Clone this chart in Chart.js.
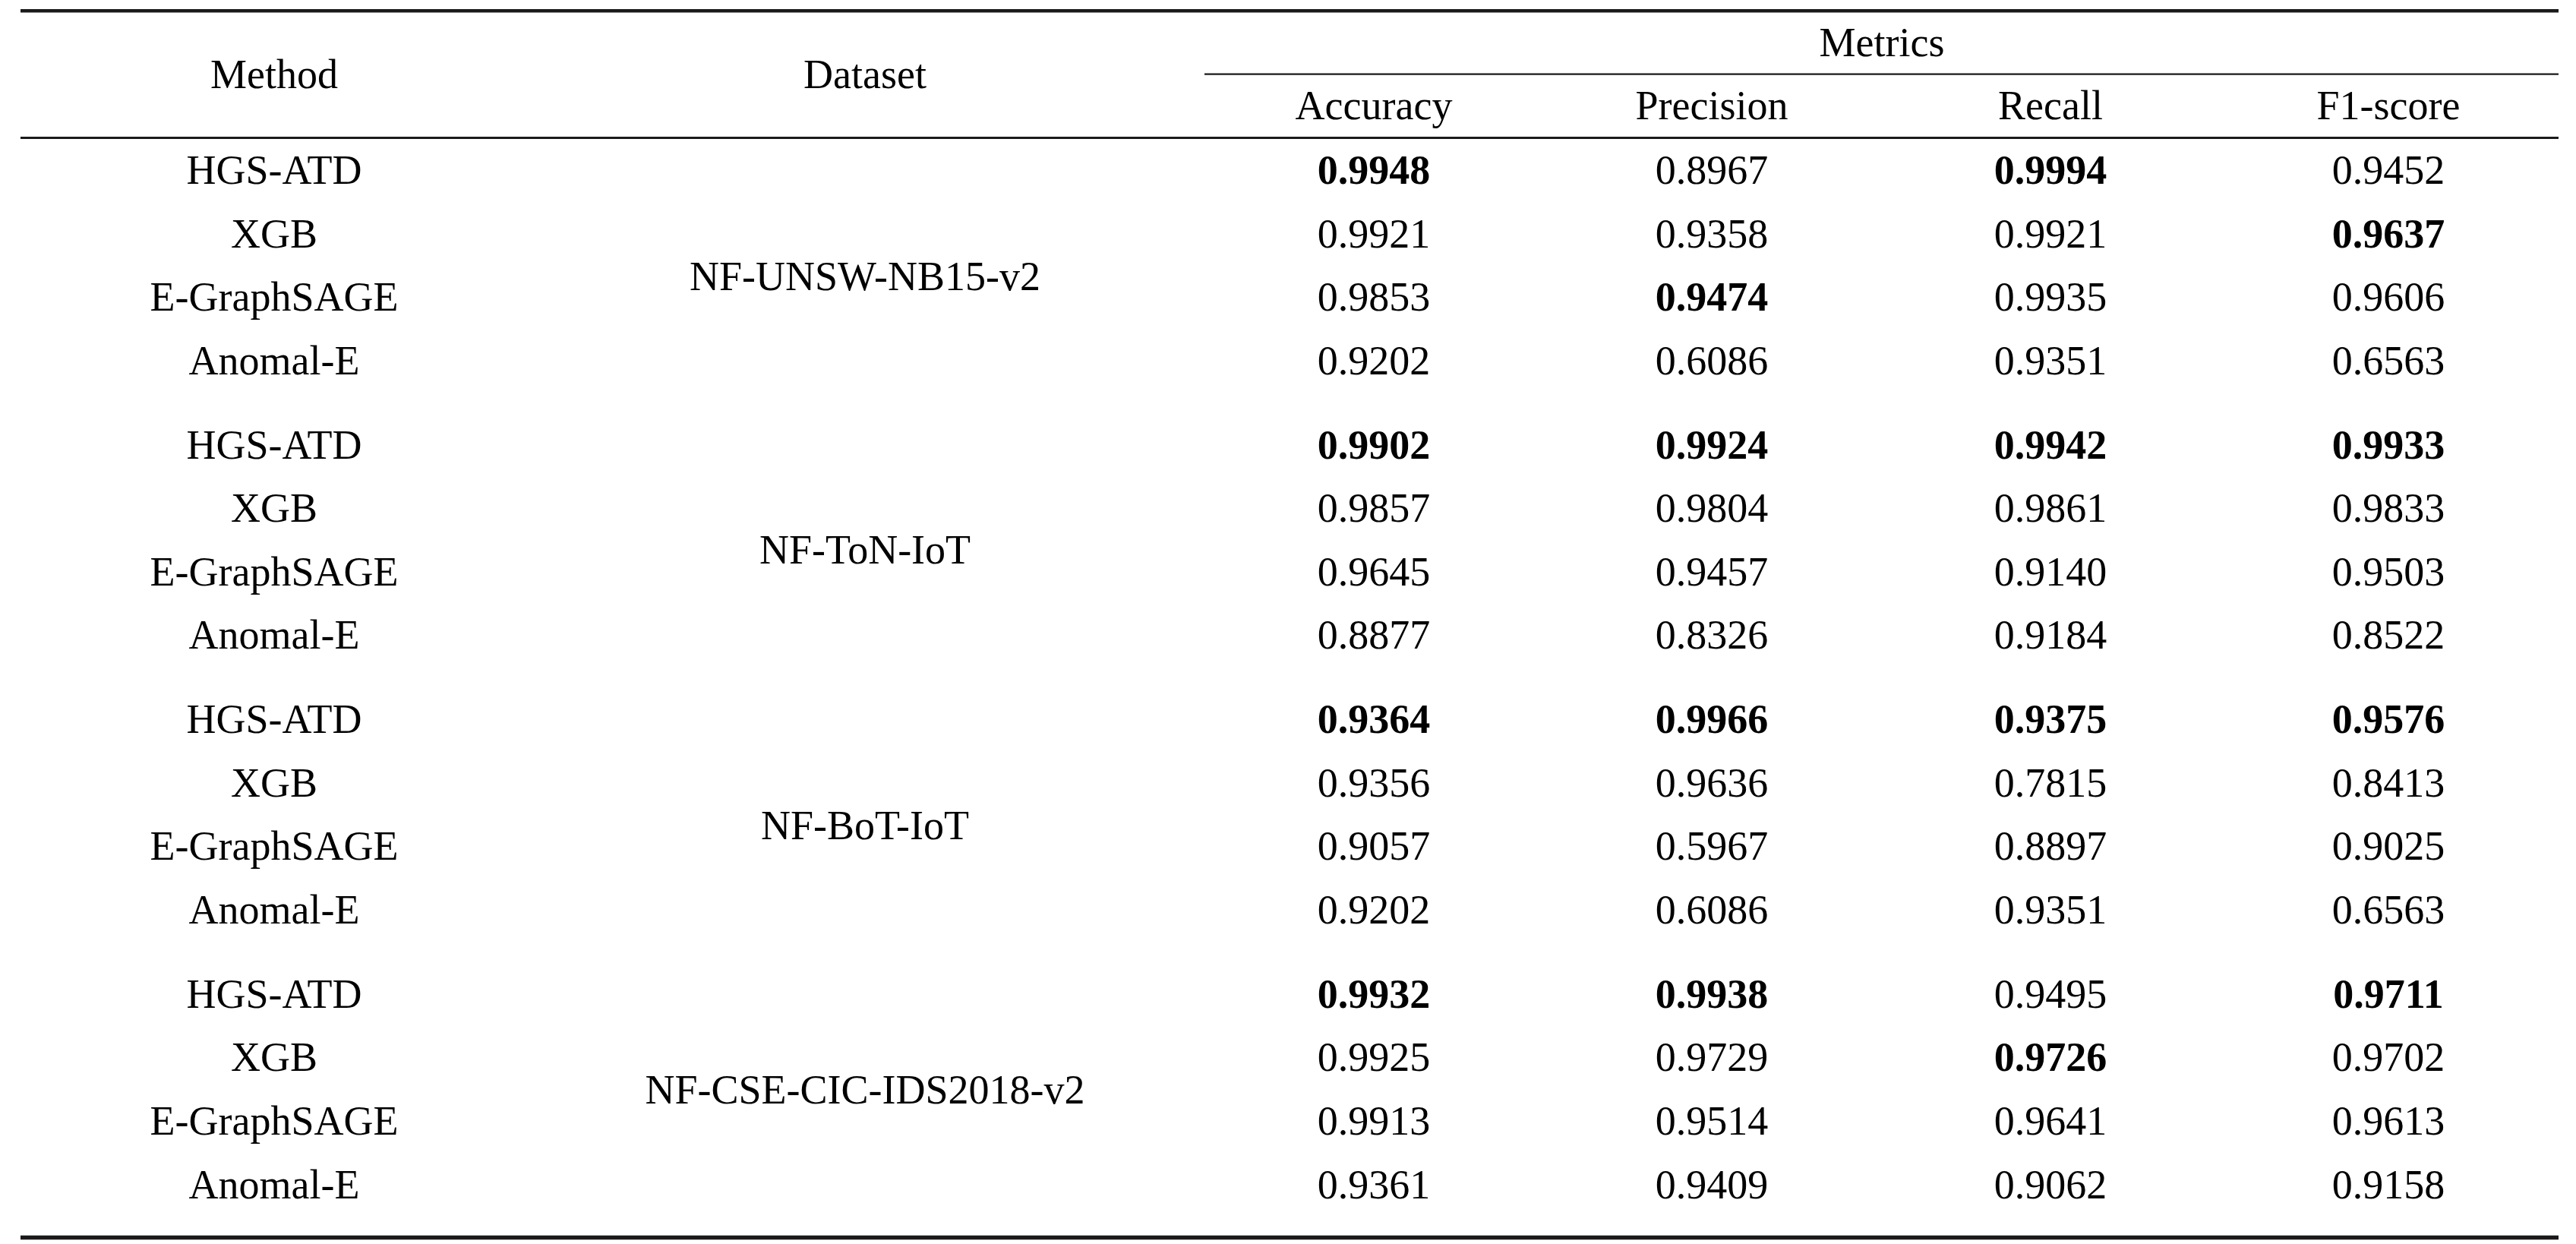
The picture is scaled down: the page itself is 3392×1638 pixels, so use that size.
<!DOCTYPE html>
<html>
<head>
<meta charset="utf-8">
<script src="https://cdn.jsdelivr.net/npm/chart.js@4.4.1/dist/chart.umd.min.js"></script>
<style>
  html, body { margin: 0; padding: 0; background: #ffffff; }
  #wrap { width: 3392px; height: 1638px; position: relative; }
  canvas { display: block; }
</style>
</head>
<body>
<div id="wrap"><canvas id="c" width="3392" height="1638"></canvas></div>
<script>
// ---------------- DATA ----------------
const methods = ['HGS-ATD', 'XGB', 'E-GraphSAGE', 'Anomal-E'];
const datasetNames = ['NF-UNSW-NB15-v2', 'NF-ToN-IoT', 'NF-BoT-IoT', 'NF-CSE-CIC-IDS2018-v2'];
const metricNames = ['Accuracy', 'Precision', 'Recall', 'F1-score'];
const headerMethod = 'Method';
const headerDataset = 'Dataset';
const headerMetrics = 'Metrics';

const accuracy  = [0.9948, 0.9921, 0.9853, 0.9202,  0.9902, 0.9857, 0.9645, 0.8877,  0.9364, 0.9356, 0.9057, 0.9202,  0.9932, 0.9925, 0.9913, 0.9361];
const precision = [0.8967, 0.9358, 0.9474, 0.6086,  0.9924, 0.9804, 0.9457, 0.8326,  0.9966, 0.9636, 0.5967, 0.6086,  0.9938, 0.9729, 0.9514, 0.9409];
const recall    = [0.9994, 0.9921, 0.9935, 0.9351,  0.9942, 0.9861, 0.9140, 0.9184,  0.9375, 0.7815, 0.8897, 0.9351,  0.9495, 0.9726, 0.9641, 0.9062];
const f1score   = [0.9452, 0.9637, 0.9606, 0.6563,  0.9933, 0.9833, 0.9503, 0.8522,  0.9576, 0.8413, 0.9025, 0.6563,  0.9711, 0.9702, 0.9613, 0.9158];

// bold (best) entries: row indices per metric
const boldAccuracy  = [0, 4, 8, 12];
const boldPrecision = [2, 4, 8, 12];
const boldRecall    = [0, 4, 8, 13];
const boldF1        = [1, 4, 8, 12];

// ---------------- LAYOUT (positions in canvas units) ----------------
const W = 3392, H = 1638;
const FONT = '"Liberation Serif", "Times New Roman", serif';
const FS = 54;
const CAP = 0.335 * FS;              // half of cap height -> baseline offset
const colMethodX = 361;
const colDatasetX = 1139;
const colMetricX = [1809, 2254, 2700, 3145];
const metricsTitleX = 2478;
const yMetricsTitle = 55.5, yHeaderMain = 97.5, ySubHeader = 139.3;
const groupStart = 224, groupStep = 361.6, rowStep = 83.6;
const datasetLabelY = [364, 724, 1087, 1435];
const rules = [
  { x0: 27,   x1: 3369, y: 14.3,   w: 4.6 },
  { x0: 1586, x1: 3369, y: 97.6,   w: 2.4 },
  { x0: 27,   x1: 3369, y: 181.5,  w: 3.0 },
  { x0: 27,   x1: 3369, y: 1629.5, w: 5.5 }
];
const rowY = i => groupStart + Math.floor(i / 4) * groupStep + (i % 4) * rowStep;
const nRows = accuracy.length;

// ---------------- Build chart datasets ----------------
function textSet(label, xs, ys, texts, bolds) {
  return {
    label,
    type: 'scatter',
    data: texts.map((t, i) => ({ x: xs(i), y: ys(i) })),
    texts,
    bolds: bolds || texts.map(() => false),
    pointRadius: 0,
    pointHoverRadius: 0,
    showLine: false
  };
}
const rowIdx = Array.from({ length: nRows }, (_, i) => i);
const methodTexts = rowIdx.map(i => methods[i % 4]);
const fmt = v => v.toFixed(4);
const boldMask = list => rowIdx.map(i => list.includes(i));

const chartDatasets = [
  textSet('method', () => colMethodX, rowY, methodTexts),
  textSet('dataset', () => colDatasetX, i => datasetLabelY[i], datasetNames),
  textSet('accuracy', () => colMetricX[0], rowY, accuracy.map(fmt), boldMask(boldAccuracy)),
  textSet('precision', () => colMetricX[1], rowY, precision.map(fmt), boldMask(boldPrecision)),
  textSet('recall', () => colMetricX[2], rowY, recall.map(fmt), boldMask(boldRecall)),
  textSet('f1', () => colMetricX[3], rowY, f1score.map(fmt), boldMask(boldF1)),
  textSet('headers', i => [colMethodX, colDatasetX, metricsTitleX][i],
          i => [yHeaderMain, yHeaderMain, yMetricsTitle][i],
          [headerMethod, headerDataset, headerMetrics]),
  textSet('subheaders', i => colMetricX[i], () => ySubHeader, metricNames)
];

const tablePlugin = {
  id: 'tablePlugin',
  beforeDatasetsDraw(chart) {
    const ctx = chart.ctx, xs = chart.scales.x, ys = chart.scales.y;
    ctx.save();
    ctx.strokeStyle = '#1a1a1a';
    ctx.lineCap = 'butt';
    rules.forEach(r => {
      ctx.lineWidth = r.w;
      ctx.beginPath();
      ctx.moveTo(xs.getPixelForValue(r.x0), ys.getPixelForValue(r.y));
      ctx.lineTo(xs.getPixelForValue(r.x1), ys.getPixelForValue(r.y));
      ctx.stroke();
    });
    ctx.restore();
  },
  afterDatasetsDraw(chart) {
    const ctx = chart.ctx;
    ctx.save();
    ctx.fillStyle = '#000000';
    ctx.textAlign = 'center';
    ctx.textBaseline = 'alphabetic';
    chart.data.datasets.forEach((ds, di) => {
      const meta = chart.getDatasetMeta(di);
      meta.data.forEach((el, i) => {
        ctx.font = (ds.bolds[i] ? 'bold ' : '') + FS + 'px ' + FONT;
        ctx.fillText(ds.texts[i], el.x, el.y + CAP);
      });
    });
    ctx.restore();
  }
};

new Chart(document.getElementById('c'), {
  type: 'scatter',
  data: { datasets: chartDatasets },
  options: {
    responsive: false,
    devicePixelRatio: 1,
    animation: false,
    events: [],
    layout: { padding: 0 },
    plugins: { legend: { display: false }, tooltip: { enabled: false } },
    scales: {
      x: { type: 'linear', min: 0, max: W, display: false },
      y: { type: 'linear', min: 0, max: H, reverse: true, display: false }
    }
  },
  plugins: [tablePlugin]
});
</script>
</body>
</html>
